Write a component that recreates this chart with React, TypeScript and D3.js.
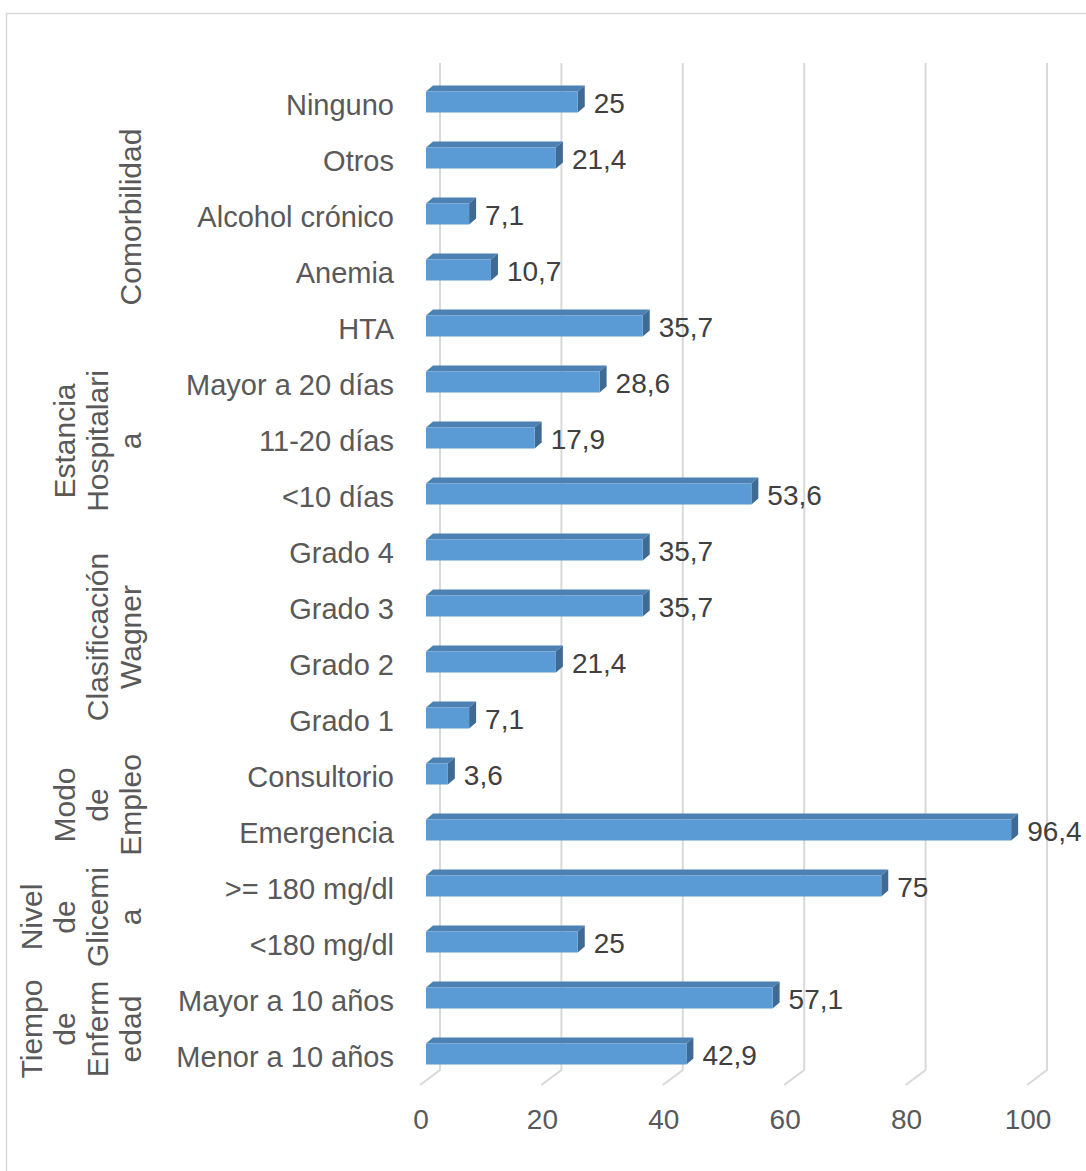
import React from "react";
import * as d3 from "d3";

// Categories listed top to bottom as they appear on the vertical axis
const categories: string[] = [
  "Ninguno",
  "Otros",
  "Alcohol crónico",
  "Anemia",
  "HTA",
  "Mayor a 20 días",
  "11-20 días",
  "<10 días",
  "Grado 4",
  "Grado 3",
  "Grado 2",
  "Grado 1",
  "Consultorio",
  "Emergencia",
  ">= 180 mg/dl",
  "<180 mg/dl",
  "Mayor a 10 años",
  "Menor a 10 años",
];

// Percentages per category
const values: number[] = [
  25, 21.4, 7.1, 10.7, 35.7, 28.6, 17.9, 53.6, 35.7, 35.7, 21.4, 7.1, 3.6, 96.4,
  75, 25, 57.1, 42.9,
];

// Outer group labels (wrapped lines) and how many categories each spans
const groupLines: string[][] = [
  ["Comorbilidad"],
  ["Estancia", "Hospitalari", "a"],
  ["Clasificación", "Wagner"],
  ["Modo", "de", "Empleo"],
  ["Nivel", "de", "Glicemi", "a"],
  ["Tiempo", "de", "Enferm", "edad"],
];
const groupSizes: number[] = [5, 3, 4, 2, 2, 2];

const xTicks: number[] = [0, 20, 40, 60, 80, 100];

const W = 1086;
const H = 1171;
const FONT = "'Liberation Sans', Arial, sans-serif";
const TEXT = "#595959";
const GRID = "#d9d9d9";

const FRONT = "#5b9bd5";
const TOP = "#4d80b3";
const SIDE = "#3e6a94";

// 3D geometry
const backX0 = 440; // zero on the back wall
const frontX0 = 426; // zero on the bar front face
const floorDx = -20;
const floorDy = 15;
const depthX = 7;
const depthY = -6;
const gridTop = 63;
const gridBottom = 1070;

const fmt = (v: number) => String(v).replace(".", ",");

export default function App() {
  const x = d3.scaleLinear().domain([0, 100]).range([0, 607]);
  const y = d3
    .scaleBand<string>()
    .domain(categories)
    .range([74, 1082])
    .paddingInner(0.625)
    .paddingOuter(0.3125);
  const bw = y.bandwidth();

  // group spans
  let start = 0;
  const groups = groupLines.map((lines, i) => {
    const first = categories[start];
    const last = categories[start + groupSizes[i] - 1];
    start += groupSizes[i];
    const c1 = (y(first) as number) + bw / 2;
    const c2 = (y(last) as number) + bw / 2;
    return { lines, mid: (c1 + c2) / 2 + 3 };
  });

  return (
    <svg
      width={W}
      height={H}
      style={{ position: "absolute", left: 0, top: 0, display: "block", background: "#fff" }}
      fontFamily={FONT}
    >
      <rect x={6.5} y={13.5} width={W + 20} height={H + 20} fill="#fff" stroke={GRID} strokeWidth={1.5} />

      {/* gridlines: back wall plus floor edge */}
      {xTicks.map((t) => {
        const gx = backX0 + x(t);
        return (
          <g key={t}>
            <path
              d={`M${gx},${gridTop} L${gx},${gridBottom} L${gx + floorDx},${gridBottom + floorDy}`}
              fill="none"
              stroke={GRID}
              strokeWidth={2}
            />
            <text
              x={gx + floorDx + 1}
              y={1129}
              textAnchor="middle"
              fontSize={28}
              fill={TEXT}
            >
              {t}
            </text>
          </g>
        );
      })}

      {/* bars */}
      {categories.map((c, i) => {
        const v = values[i];
        const y0 = y(c) as number;
        const y1 = y0 + bw;
        const x0 = frontX0;
        const x1 = frontX0 + x(v);
        const top = `M${x0},${y0} L${x0 + depthX},${y0 + depthY} L${x1 + depthX},${y0 + depthY} L${x1},${y0} Z`;
        const side = `M${x1},${y0} L${x1 + depthX},${y0 + depthY} L${x1 + depthX},${y1 + depthY} L${x1},${y1} Z`;
        return (
          <g key={c}>
            <path d={top} fill={TOP} />
            <path d={side} fill={SIDE} />
            <rect x={x0} y={y0} width={x1 - x0} height={bw} fill={FRONT} />
            <text x={x1 + 16} y={y0 + bw / 2 + 11} fontSize={28} fill="#404040">
              {fmt(v)}
            </text>
            <text x={394} y={y0 + bw / 2 + 13} textAnchor="end" fontSize={29} fill={TEXT}>
              {c}
            </text>
          </g>
        );
      })}

      {/* group labels, rotated */}
      {groups.map((g, gi) => (
        <g key={gi}>
          {g.lines.map((line, k) => {
            const n = g.lines.length;
            const bx = 141 - (n - 1 - k) * 33;
            return (
              <text
                key={k}
                transform={`translate(${bx},${g.mid}) rotate(-90)`}
                textAnchor="middle"
                fontSize={30}
                fill={TEXT}
              >
                {line}
              </text>
            );
          })}
        </g>
      ))}
    </svg>
  );
}
